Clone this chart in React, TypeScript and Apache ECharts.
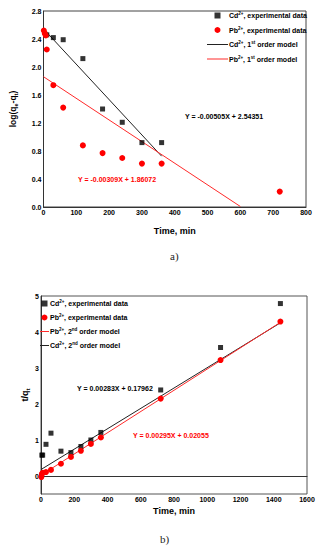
import React, { useEffect, useRef } from "react";
import * as echarts from "echarts";

// Chart a) pseudo-first-order: log(qe - qt) vs time
const cdExpA: [number, number][] = [
  [10, 2.46], [30, 2.42], [60, 2.39], [120, 2.12], [180, 1.40],
  [240, 1.21], [300, 0.92], [360, 0.92],
];
const pbExpA: [number, number][] = [
  [1, 2.52], [4, 2.48], [7, 2.45], [10, 2.25], [30, 1.74], [60, 1.42],
  [120, 0.88], [180, 0.77], [240, 0.70], [300, 0.62], [360, 0.62], [720, 0.22],
];
const cdFitA: [number, number][] = [[0, 2.544], [360, 0.726]];
const pbFitA: [number, number][] = [[0, 1.861], [600, 0.007]];

// Chart b) pseudo-second-order: t/qt vs time
const cdExpB: [number, number][] = [
  [5, 0.58], [10, 0.58], [30, 0.88], [60, 1.19], [120, 0.69], [180, 0.65],
  [240, 0.82], [300, 1.0], [360, 1.21], [720, 2.39], [1080, 3.57], [1440, 4.79],
];
const pbExpB: [number, number][] = [
  [2, -0.03], [5, 0.05], [10, 0.09], [30, 0.11], [60, 0.17], [120, 0.34],
  [180, 0.53], [240, 0.70], [300, 0.89], [360, 1.07], [720, 2.15], [1080, 3.22], [1440, 4.29],
];
const pbFitB: [number, number][] = [[0, 0.021], [1440, 4.269]];
const cdFitB: [number, number][] = [[0, 0.18], [1440, 4.255]];

const eqA1 = "Y = -0.00505X + 2.54351";
const eqA2 = "Y = -0.00309X + 1.86072";
const eqB1 = "Y = 0.00283X + 0.17962";
const eqB2 = "Y = 0.00295X + 0.02055";

const FONT = "'Liberation Sans', Arial, sans-serif";

const legendLabels: Record<string, string> = {
  "Cd exp a": "{t|Cd}{s|2+}{t|, experimental data}",
  "Pb exp a": "{t|Pb}{s|2+}{t|, experimental data}",
  "Cd 1st": "{t|Cd}{s|2+}{t|, 1}{s|st}{t| order model}",
  "Pb 1st": "{t|Pb}{s|2+}{t|, 1}{s|st}{t| order model}",
  "Cd exp b": "{t|Cd}{s|2+}{t|, experimental data}",
  "Pb exp b": "{t|Pb}{s|2+}{t|, experimental data}",
  "Pb 2nd": "{t|Pb}{s|2+}{t|, 2}{s|nd}{t| order model}",
  "Cd 2nd": "{t|Cd}{s|2+}{t|, 2}{s|nd}{t| order model}",
};

const legendRich = {
  t: { fontSize: 7, fontFamily: FONT, color: "#000", fontWeight: "bold" as const, lineHeight: 9 },
  s: { fontSize: 4.5, fontFamily: FONT, color: "#000", fontWeight: "bold" as const, verticalAlign: "top" as const, lineHeight: 9 },
};

const SQUARE = "path://M0,0h10v10h-10z";
const LINE_A = "path://M0,0h42v2h-42z";
const LINE_B = "path://M0,0h18v2h-18z";

export default function App() {
  const ref = useRef<HTMLDivElement>(null);
  useEffect(() => {
    if (!ref.current) return;
    const chart = echarts.init(ref.current, null, { renderer: "svg" });
    const axisLabel = {
      fontSize: 7,
      fontWeight: "bold" as const,
      fontFamily: FONT,
      color: "#000",
      margin: 2,
      formatter: (v: number) => String(v),
    };
    const axisLine = { show: true, lineStyle: { color: "#333", width: 1 } };
    chart.setOption({
      animation: false,
      backgroundColor: "#fff",
      grid: [
        { left: 41, top: 11, width: 265, height: 196, show: true, borderColor: "#444", borderWidth: 1 },
        { left: 41, top: 296, width: 266, height: 198, show: true, borderColor: "#555", borderWidth: 1 },
      ],
      xAxis: [
        {
          type: "value", gridIndex: 0, min: 0, max: 800, interval: 100,
          axisLine, axisTick: { show: false }, splitLine: { show: false },
          axisLabel,
          name: "Time, min", nameLocation: "middle", nameGap: 19, nameMoveOverlap: false,
          nameTextStyle: { fontSize: 9, fontWeight: "bold", fontFamily: FONT, color: "#000" },
        },
        {
          type: "value", gridIndex: 1, min: 0, max: 1600, interval: 200,
          axisLine, axisTick: { show: false }, splitLine: { show: false },
          axisLabel,
          name: "Time, min", nameLocation: "middle", nameGap: 12, nameMoveOverlap: false,
          nameTextStyle: { fontSize: 9, fontWeight: "bold", fontFamily: FONT, color: "#000" },
        },
      ],
      yAxis: [
        {
          type: "value", gridIndex: 0, min: 0, max: 2.8, interval: 0.4,
          axisLine, axisTick: { show: false }, splitLine: { show: false },
          axisLabel: { ...axisLabel, formatter: (v: number) => v.toFixed(1) },
          name: "{m|log(q}{b|e}{m|-q}{b|t}{m|)}", nameLocation: "middle", nameGap: 25, nameRotate: 90,
          nameMoveOverlap: false,
          nameTextStyle: {
            rich: {
              m: { fontSize: 8.5, fontWeight: "bold", fontFamily: FONT, color: "#000", lineHeight: 12 },
              b: { fontSize: 5.5, fontWeight: "bold", fontFamily: FONT, color: "#000", verticalAlign: "bottom", lineHeight: 12 },
            },
          },
        },
        {
          type: "value", gridIndex: 1, min: -0.5, max: 5, interval: 0.5,
          axisLine, axisTick: { show: false }, splitLine: { show: false },
          axisLabel: {
            ...axisLabel,
            formatter: (v: number) => (Math.abs(v - Math.round(v)) < 1e-6 ? String(Math.round(v)) : ""),
          },
          name: "{m|t/q}{b|t}", nameLocation: "middle", nameGap: 10, nameRotate: 90,
          nameMoveOverlap: false,
          nameTextStyle: {
            rich: {
              m: { fontSize: 9, fontWeight: "bold", fontFamily: FONT, color: "#000", lineHeight: 12 },
              b: { fontSize: 6, fontWeight: "bold", fontFamily: FONT, color: "#000", verticalAlign: "bottom", lineHeight: 12 },
            },
          },
        },
      ],
      legend: [
        {
          data: [
            { name: "Cd exp a", icon: SQUARE },
            { name: "Pb exp a", icon: "circle" },
            { name: "Cd 1st", icon: LINE_A },
            { name: "Pb 1st", icon: LINE_A },
          ],
          orient: "vertical", left: 207, top: 11, itemWidth: 21, itemHeight: 6, itemGap: 6.5,
          padding: 0, selectedMode: false,
          formatter: (n: string) => legendLabels[n],
          textStyle: { rich: legendRich, padding: [0, 0, 0, -4] },
        },
        {
          data: [
            { name: "Cd exp b", icon: SQUARE },
            { name: "Pb exp b", icon: "circle" },
            { name: "Pb 2nd", icon: LINE_B },
            { name: "Cd 2nd", icon: LINE_B },
          ],
          orient: "vertical", left: 40, top: 299, itemWidth: 9, itemHeight: 6, itemGap: 6,
          padding: 0, selectedMode: false,
          formatter: (n: string) => legendLabels[n],
          textStyle: { rich: legendRich, padding: [0, 0, 0, -4] },
        },
      ],
      series: [
        {
          name: "Cd 1st", type: "line", xAxisIndex: 0, yAxisIndex: 0, data: cdFitA,
          symbol: "none", lineStyle: { color: "#222", width: 1 }, itemStyle: { color: "#222" }, z: 2,
        },
        {
          name: "Pb 1st", type: "line", xAxisIndex: 0, yAxisIndex: 0, data: pbFitA,
          symbol: "none", lineStyle: { color: "#ff2a2a", width: 1 }, itemStyle: { color: "#ff2a2a" }, z: 2,
        },
        {
          name: "Cd exp a", type: "scatter", xAxisIndex: 0, yAxisIndex: 0, data: cdExpA,
          symbol: "rect", symbolSize: 5, itemStyle: { color: "#000" }, z: 3,
        },
        {
          name: "Pb exp a", type: "scatter", xAxisIndex: 0, yAxisIndex: 0, data: pbExpA,
          symbol: "circle", symbolSize: 6, itemStyle: { color: "#ff0000", opacity: 1 }, z: 4,
        },
        {
          name: "Cd 2nd", type: "line", xAxisIndex: 1, yAxisIndex: 1, data: cdFitB,
          symbol: "none", lineStyle: { color: "#222", width: 1 }, itemStyle: { color: "#222" }, z: 2,
        },
        {
          name: "Pb 2nd", type: "line", xAxisIndex: 1, yAxisIndex: 1, data: pbFitB,
          symbol: "none", lineStyle: { color: "#ff2a2a", width: 1 }, itemStyle: { color: "#ff2a2a" }, z: 2,
        },
        {
          name: "Cd exp b", type: "scatter", xAxisIndex: 1, yAxisIndex: 1, data: cdExpB,
          symbol: "rect", symbolSize: 5, itemStyle: { color: "#000" }, z: 3,
        },
        {
          name: "Pb exp b", type: "scatter", xAxisIndex: 1, yAxisIndex: 1, data: pbExpB,
          symbol: "circle", symbolSize: 6, itemStyle: { color: "#ff0000", opacity: 1 }, z: 4,
        },
      ],
      graphic: [
        {
          type: "text", left: 185, top: 113,
          style: { text: eqA1, fontSize: 7, fontWeight: "bold", fontFamily: FONT, fill: "#000" },
        },
        {
          type: "text", left: 78, top: 176,
          style: { text: eqA2, fontSize: 7, fontWeight: "bold", fontFamily: FONT, fill: "#ff0000" },
        },
        {
          type: "text", left: 77, top: 385,
          style: { text: eqB1, fontSize: 7, fontWeight: "bold", fontFamily: FONT, fill: "#000" },
        },
        {
          type: "text", left: 133, top: 432,
          style: { text: eqB2, fontSize: 7, fontWeight: "bold", fontFamily: FONT, fill: "#ff0000" },
        },
        {
          type: "text", left: 170, top: 250,
          style: { text: "a)", fontSize: 11, fontFamily: "'Liberation Serif', 'DejaVu Serif', serif", fill: "#222" },
        },
        {
          type: "text", left: 160, top: 533,
          style: { text: "b)", fontSize: 11, fontFamily: "'Liberation Serif', 'DejaVu Serif', serif", fill: "#222" },
        },
      ],
    });
    return () => chart.dispose();
  }, []);
  return (
    <div
      ref={ref}
      style={{ position: "absolute", left: 0, top: 0, width: 324, height: 550, background: "#fff" }}
    />
  );
}
